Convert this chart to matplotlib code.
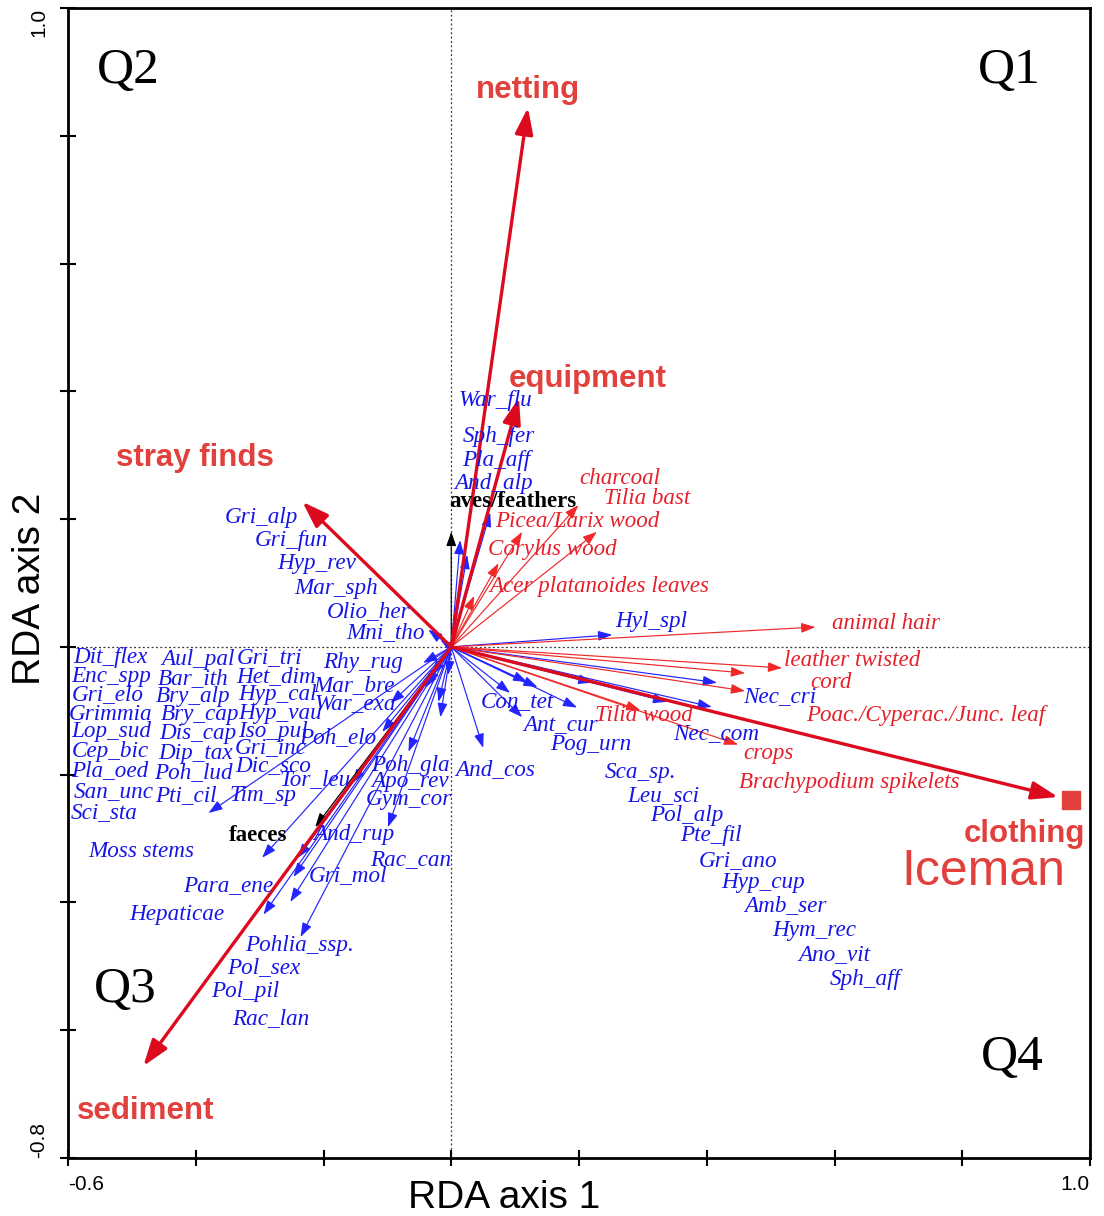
import matplotlib
matplotlib.use('Agg')
import numpy as np
import matplotlib.pyplot as plt
from matplotlib import font_manager

_names = {f.name for f in font_manager.fontManager.ttflist}
NARROW = 'Liberation Sans Narrow' if 'Liberation Sans Narrow' in _names else 'Liberation Sans'
SANS = 'Liberation Sans'
SERIF = 'Liberation Serif'

# ---------------- data (RDA scores) ----------------
# explanatory variables (thick red arrows)
env_names = ['netting', 'equipment', 'stray finds', 'sediment', 'clothing']
env_x = [0.120, 0.106, -0.233, -0.482, 0.950]
env_y = [0.844, 0.390, 0.227, -0.656, -0.235]
env_lab_x = [0.120, 0.214, -0.402, -0.479, 0.898]
env_lab_y = [0.872, 0.419, 0.296, -0.726, -0.293]

# supplementary (black arrows)
sup_names = ['aves/feathers', 'faeces']
sup_x = [0.000, -0.213]
sup_y = [0.180, -0.282]
sup_lab_x = [0.097, -0.302]
sup_lab_y = [0.228, -0.296]

# archaeological objects (thin red arrows)
obj_names = ['charcoal', 'Tilia bast', 'Picea/Larix wood', 'Corylus wood',
             'Acer platanoides leaves', 'animal hair', 'leather twisted', 'cord',
             'Poac./Cyperac./Junc. leaf', 'Tilia wood', 'crops', 'Brachypodium spikelets']
obj_x = [0.199, 0.228, 0.111, 0.074, 0.036, 0.570, 0.518, 0.460, 0.460, 0.296, 0.449, None]
obj_y = [0.222, 0.180, 0.180, 0.131, 0.080, 0.031, -0.033, -0.041, -0.069, -0.099, -0.153, None]
obj_lab_x = [0.264, 0.307, 0.197, 0.158, 0.232, 0.681, 0.628, 0.595, 0.742, 0.302, 0.496, 0.623]
obj_lab_y = [0.263, 0.232, 0.197, 0.152, 0.095, 0.036, -0.022, -0.056, -0.108, -0.108, -0.167, -0.213]

# species arrows (blue)
sp_arrow_x = [0.014, 0.025, 0.061, -0.036, -0.017,
              -0.044, -0.041, -0.030, -0.095, -0.020, -0.017, -0.005, -0.108, -0.067,
              -0.155, -0.099, -0.380, -0.296, -0.240, -0.247, -0.252, -0.294, -0.236, -0.038,
              0.050, 0.092, 0.119, 0.135, 0.197, 0.111, 0.416, 0.408, 0.221, 0.338, 0.252]
sp_arrow_y = [0.167, 0.144, 0.210, 0.027, 0.011,
              -0.025, -0.064, -0.044, -0.088, -0.086, -0.110, -0.044, -0.133, -0.164,
              -0.213, -0.282, -0.260, -0.330, -0.330, -0.360, -0.399, -0.419, -0.454, -0.059,
              -0.158, -0.072, -0.055, -0.063, -0.095, -0.110, -0.056, -0.094, -0.056, -0.086, 0.019]

# species labels
sp_names = ['War_flu', 'Sph_fer', 'Pla_aff', 'And_alp',
            'Gri_alp', 'Gri_fun', 'Hyp_rev', 'Mar_sph', 'Olio_her', 'Mni_tho',
            'Dit_flex', 'Enc_spp', 'Gri_elo', 'Grimmia', 'Lop_sud', 'Cep_bic', 'Pla_oed', 'San_unc', 'Sci_sta',
            'Aul_pal', 'Bar_ith', 'Bry_alp', 'Bry_cap', 'Dis_cap', 'Dip_tax', 'Poh_lud', 'Pti_cil',
            'Gri_tri', 'Het_dim', 'Hyp_cal', 'Hyp_vau', 'Iso_pul', 'Gri_inc', 'Dic_sco', 'Tim_sp',
            'Rhy_rug', 'Mar_bre', 'War_exa', 'Poh_elo', 'Tor_leu', 'Poh_gla', 'Apo_rev', 'Gym_cor',
            'And_rup', 'Rac_can', 'Gri_mol', 'Moss stems', 'Para_ene', 'Hepaticae', 'Pohlia_ssp.',
            'Pol_sex', 'Pol_pil', 'Rac_lan',
            'Hyl_spl', 'Con_tet', 'Ant_cur', 'Pog_urn', 'And_cos', 'Nec_cri', 'Nec_com',
            'Sca_sp.', 'Leu_sci', 'Pol_alp', 'Pte_fil', 'Gri_ano', 'Hyp_cup', 'Amb_ser',
            'Hym_rec', 'Ano_vit', 'Sph_aff']
sp_lab_x = [0.069, 0.074, 0.070, 0.067,
            -0.297, -0.250, -0.210, -0.180, -0.130, -0.103,
            -0.534, -0.532, -0.538, -0.534, -0.532, -0.534, -0.534, -0.529, -0.543,
            -0.397, -0.404, -0.404, -0.393, -0.397, -0.401, -0.404, -0.416,
            -0.285, -0.274, -0.272, -0.268, -0.279, -0.283, -0.279, -0.294,
            -0.138, -0.152, -0.150, -0.177, -0.213, -0.064, -0.064, -0.067,
            -0.152, -0.064, -0.161, -0.485, -0.349, -0.430, -0.238,
            -0.294, -0.322, -0.283,
            0.313, 0.103, 0.171, 0.218, 0.069, 0.515, 0.415,
            0.297, 0.332, 0.369, 0.407, 0.449, 0.488, 0.523,
            0.568, 0.599, 0.648]
sp_lab_y = [0.385, 0.329, 0.291, 0.255,
            0.202, 0.167, 0.130, 0.091, 0.056, 0.023,
            -0.017, -0.047, -0.075, -0.106, -0.133, -0.164, -0.194, -0.227, -0.260,
            -0.020, -0.049, -0.077, -0.106, -0.135, -0.167, -0.197, -0.232,
            -0.017, -0.047, -0.074, -0.105, -0.133, -0.158, -0.185, -0.233,
            -0.025, -0.061, -0.088, -0.142, -0.208, -0.186, -0.211, -0.239,
            -0.294, -0.333, -0.358, -0.321, -0.374, -0.419, -0.468,
            -0.502, -0.540, -0.581,
            0.039, -0.086, -0.122, -0.153, -0.192, -0.078, -0.136,
            -0.197, -0.233, -0.264, -0.296, -0.335, -0.369, -0.405,
            -0.444, -0.482, -0.520]

# Iceman sample point
iceman_x, iceman_y = 0.970, -0.239
iceman_lab_x, iceman_lab_y = 0.833, -0.352

quad_names = ['Q1', 'Q2', 'Q3', 'Q4']
quad_x = [0.874, -0.506, -0.510, 0.879]
quad_y = [0.902, 0.902, -0.537, -0.643]

# ---------------- styles ----------------
BLUE_LINE = '#2424FF'
BLUE_TEXT = '#1515E8'
RED_THICK = '#DC0A1E'
RED_THIN = '#F02828'
RED_TEXT = '#E6202A'
RED_BOLD = '#E2403C'

fig = plt.figure(figsize=(11.04, 12.16), dpi=100)
ax = fig.add_axes([68 / 1104, 1 - 1158 / 1216, 1022 / 1104, 1150 / 1216])
ax.set_xlim(-0.6, 1.0)
ax.set_ylim(-0.8, 1.0)

ax.axhline(0, color='#333333', ls=(0, (1.5, 2)), lw=0.9, zorder=1)
ax.axvline(0, color='#333333', ls=(0, (1.5, 2)), lw=0.9, zorder=1)


def arrow(x, y, color, lw, hl, hw, z):
    ax.annotate('', xy=(x, y), xytext=(0, 0),
                arrowprops=dict(arrowstyle='-|>,head_length=%g,head_width=%g' % (hl, hw),
                                color=color, lw=lw, shrinkA=0, shrinkB=0,
                                mutation_scale=10),
                zorder=z)


for x, y in zip(sp_arrow_x, sp_arrow_y):
    arrow(x, y, BLUE_LINE, 0.85, 0.85, 0.3, 2)
for x, y in zip(obj_x, obj_y):
    if x is not None:
        arrow(x, y, RED_THIN, 0.85, 0.85, 0.3, 3)
for x, y in zip(sup_x, sup_y):
    arrow(x, y, 'black', 0.85, 0.85, 0.3, 3)
for x, y in zip(env_x, env_y):
    arrow(x, y, RED_THICK, 2.4, 1.6, 0.55, 4)

ax.plot([iceman_x], [iceman_y], marker='s', ms=13, color=RED_BOLD, ls='none', zorder=5)

for n, x, y in zip(sp_names, sp_lab_x, sp_lab_y):
    ax.text(x, y, n, color=BLUE_TEXT, fontsize=16.7, family=SERIF, style='italic',
            ha='center', va='center', zorder=6)
for n, x, y in zip(obj_names, obj_lab_x, obj_lab_y):
    ax.text(x, y, n, color=RED_TEXT, fontsize=16.6, family=SERIF, style='italic',
            ha='center', va='center', zorder=6)
for n, x, y in zip(sup_names, sup_lab_x, sup_lab_y):
    ax.text(x, y, n, color='black', fontsize=16.5, family=SERIF, weight='bold',
            ha='center', va='center', zorder=6)
for n, x, y in zip(env_names, env_lab_x, env_lab_y):
    ax.text(x, y, n, color=RED_BOLD, fontsize=22.5, family=SANS, weight='bold',
            ha='center', va='center', zorder=6)
ax.text(iceman_lab_x, iceman_lab_y, 'Iceman', color=RED_BOLD, fontsize=36, family=SANS,
        ha='center', va='center', zorder=6)
for n, x, y in zip(quad_names, quad_x, quad_y):
    ax.text(x, y, n, color='black', fontsize=37, family=SERIF,
            ha='center', va='center', zorder=6)

# ticks
xt = np.round(np.arange(-0.6, 1.0001, 0.2), 1)
yt = np.round(np.arange(-0.8, 1.0001, 0.2), 1)
ax.set_xticks(xt)
ax.set_yticks(yt)
ax.set_xticklabels(['-0.6'] + [''] * (len(xt) - 2) + ['1.0'], family=NARROW, fontsize=15)
ax.set_yticklabels(['-0.8'] + [''] * (len(yt) - 2) + ['1.0'], family=NARROW, fontsize=15,
                   rotation=90)
xl = ax.get_xticklabels()
xl[0].set_ha('left')
xl[-1].set_ha('right')
yl = ax.get_yticklabels()
yl[0].set_va('bottom')
yl[-1].set_va('top')
ax.tick_params(axis='both', direction='inout', length=12, width=1.5, color='black')
ax.tick_params(axis='x', pad=6)
ax.tick_params(axis='y', pad=8)
for s in ax.spines.values():
    s.set_linewidth(2)
    s.set_color('black')

fig.text(504 / 1104, 1 - 1198 / 1216, 'RDA axis 1', family=NARROW, fontsize=28,
         ha='center', va='center')
fig.text(30 / 1104, 1 - 589 / 1216, 'RDA axis 2', family=NARROW, fontsize=28,
         ha='center', va='center', rotation=90)

fig.savefig('out.png', dpi=100)
